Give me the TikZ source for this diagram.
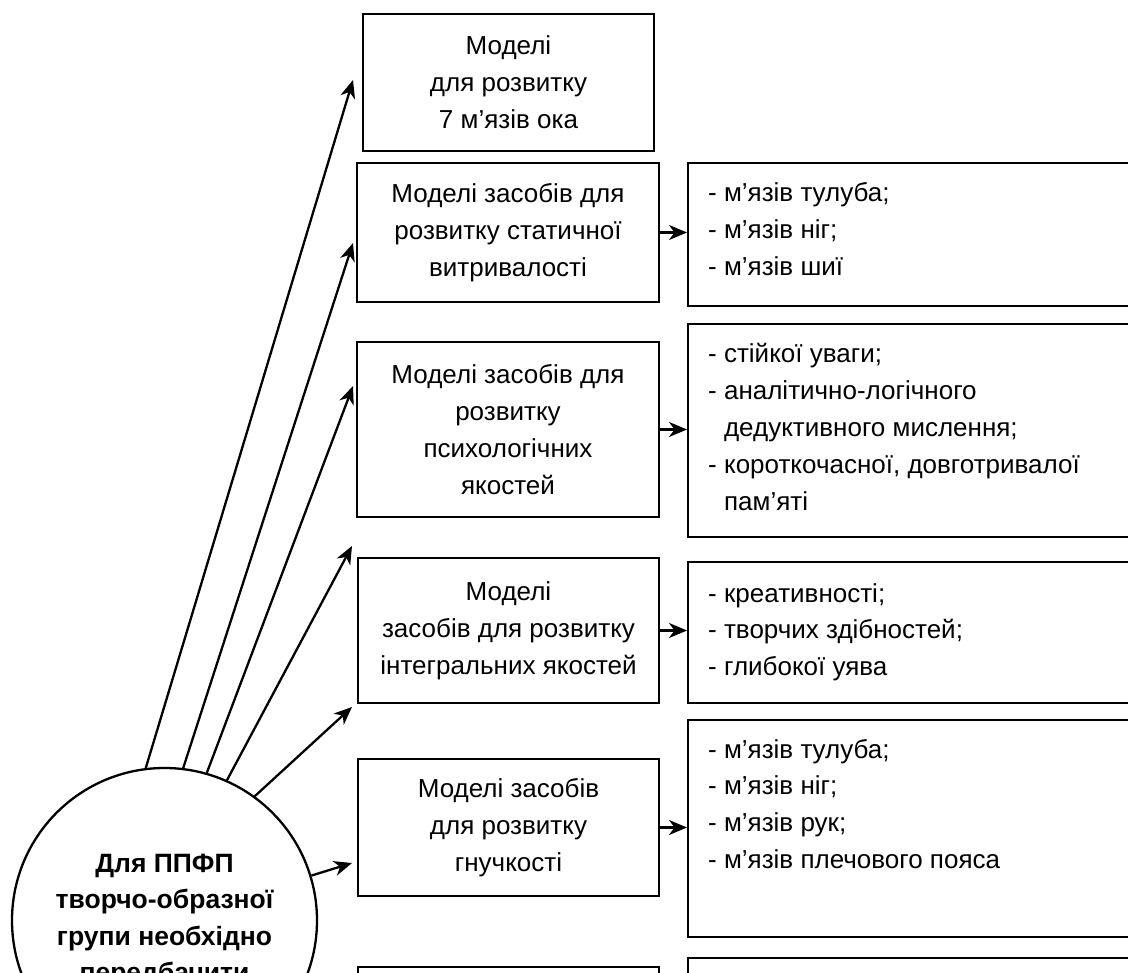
\documentclass[tikz,border=0pt]{standalone}
\usepackage{fontspec}
\setmainfont{Liberation Sans}
\usetikzlibrary{arrows.meta}
\begin{document}
\begin{tikzpicture}[x=1pt,y=-1pt,
  txt/.style={font=\fontsize{26}{36.8}\selectfont},
  lbox/.style={draw, line width=2.3pt, align=center, inner sep=0pt, txt},
  rbox/.style={draw, line width=2.3pt, inner sep=0pt, anchor=north west},
  item/.style={anchor=base west, inner sep=0pt, txt},
  hub/.style={draw, circle, line width=2.3pt, minimum size=305pt, inner sep=0pt,
    align=center, font=\fontsize{26.5}{36.3}\selectfont\bfseries},
  link/.style={line width=2.3pt, -{Stealth[length=18pt,width=15pt,inset=5.5pt]}}
]
\useasboundingbox (0,0) rectangle (1128,973);
\clip (0,0) rectangle (1128,973);

% model boxes (left column)
\node[lbox, minimum width=291pt, minimum height=137pt] (b1) at (508.5,82.5)
  {Моделі\\для розвитку\\7 м’язів ока};
\node[lbox, minimum width=302pt, minimum height=139pt] (b2) at (508,232.5)
  {Моделі засобів для\\розвитку статичної\\витривалості};
\node[lbox, minimum width=302pt, minimum height=175pt] (b3) at (508,429.5)
  {Моделі засобів для\\розвитку\\психологічних\\якостей};
\node[lbox, minimum width=301pt, minimum height=145pt] (b4) at (508.5,630.5)
  {Моделі\\засобів для розвитку\\інтегральних якостей};
\node[lbox, minimum width=301pt, minimum height=137pt] (b5) at (508.5,827.5)
  {Моделі засобів\\для розвитку\\гнучкості};
\node[lbox, minimum width=301pt, minimum height=140pt] (b6) at (508.5,1037) {};

% detail boxes (right column)
\node[rbox, minimum width=460pt, minimum height=143pt] (r2) at (687,162) {};
\node[rbox, minimum width=460pt, minimum height=213pt] (r3) at (687,323) {};
\node[rbox, minimum width=460pt, minimum height=141pt] (r4) at (687,561) {};
\node[rbox, minimum width=460pt, minimum height=217pt] (r5) at (687,719) {};
\node[rbox, minimum width=460pt, minimum height=150pt] (r6) at (687,957) {};

\node[item] (t2) at ([xshift=21pt,yshift=-40pt]r2.north west)
  {\begin{tabular}[t]{@{}l@{}}- м’язів тулуба;\\- м’язів ніг;\\- м’язів шиї\end{tabular}};
\node[item] (t3) at ([xshift=21pt,yshift=-40pt]r3.north west)
  {\begin{tabular}[t]{@{}l@{}}- стійкої уваги;\\- аналітично-логічного\\\hphantom{-} дедуктивного мислення;\\- короткочасної, довготривалої\\\hphantom{-} пам’яті\end{tabular}};
\node[item] (t4) at ([xshift=21pt,yshift=-41pt]r4.north west)
  {\begin{tabular}[t]{@{}l@{}}- креативності;\\- творчих здібностей;\\- глибокої уява\end{tabular}};
\node[item] (t5) at ([xshift=21pt,yshift=-39pt]r5.north west)
  {\begin{tabular}[t]{@{}l@{}}- м’язів тулуба;\\- м’язів ніг;\\- м’язів рук;\\- м’язів плечового пояса\end{tabular}};

% central circle
\node[hub] (c) at (164.5,920.5)
  {Для ППФП\\творчо-образної\\групи необхідно\\передбачити};

% free ends of the rays
\coordinate (a1) at (353,80);
\coordinate (a2) at (353,243);
\coordinate (a3) at (353,386);
\coordinate (a4) at (352,546);
\coordinate (a5) at (352,707);
\coordinate (a6) at (352,863);

\draw[link] (c.97.3) -- (a1);
\draw[link] (c.83) -- (a2);
\draw[link] (c.74.3) -- (a3);
\draw[link] (c.66.7) -- (a4);
\draw[link] (c.54.8) -- (a5);
\draw[link] (c.17.1) -- (a6);

% links to the detail boxes
\draw[link] (b2.east) -- (b2.east -| r2.west);
\draw[link] (b3.east) -- (b3.east -| r3.west);
\draw[link] (b4.east) -- (b4.east -| r4.west);
\draw[link] (b5.east) -- (b5.east -| r5.west);
\end{tikzpicture}
\end{document}
